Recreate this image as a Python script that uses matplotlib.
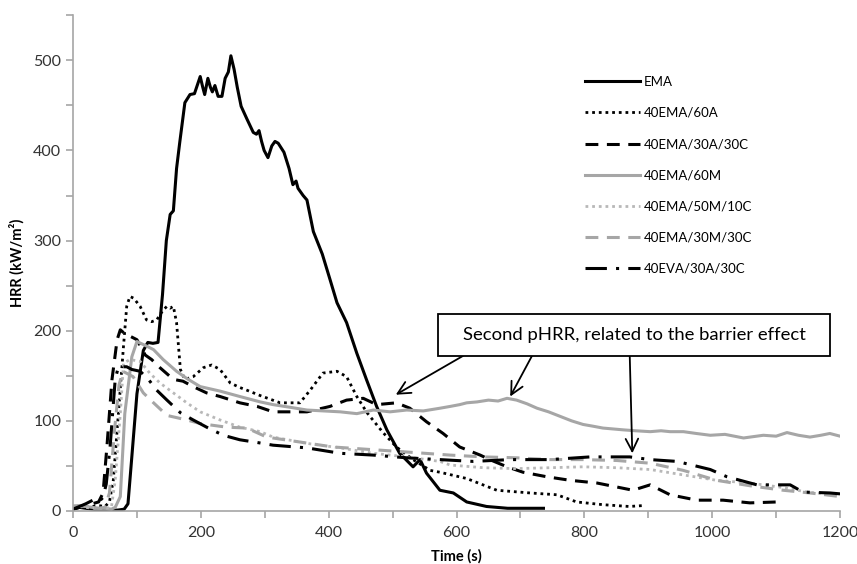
import numpy as np
import matplotlib.pyplot as plt
from matplotlib.patches import Rectangle

plt.rcParams['font.family'] = ['Lato', 'DejaVu Sans']

# EMA
t_ema = [0, 10, 20, 30, 40, 50, 60, 70, 80, 86, 92, 100, 110, 117, 125, 133, 140, 146, 152, 157, 162, 167,
         175, 183, 190, 199, 203, 206, 211, 215, 218, 222, 227, 233, 238, 243, 247, 252, 257, 263, 272, 282,
         287, 291, 295, 299, 305, 311, 316, 321, 330, 338, 344, 349, 352, 360, 366, 376, 390, 402, 413, 428,
         444, 459, 475, 491, 511, 532, 543, 553, 574, 595, 616, 647, 680, 710, 736]
hrr_ema = [2, 4, 3, 2, 1, 0, 1, 1, 2, 8, 60, 130, 178, 187, 186, 187, 240, 300, 329, 333, 380, 409,
           453, 462, 463, 482, 470, 462, 480, 470, 465, 472, 460, 460, 480, 487, 505, 490, 470, 449, 435, 420,
           418, 422, 410, 400, 392, 405, 410, 408, 398, 380, 362, 366, 358, 350, 345, 310, 285, 257, 231, 209,
           175, 146, 116, 90, 64, 49, 57, 42, 23, 20, 10, 5, 3, 3, 3]

# 40EMA/60A
t_60a = [0, 10, 20, 30, 40, 50, 57, 63, 71, 79, 84, 89, 95, 105, 115, 123, 131, 141, 147, 152, 157, 162,
         168, 175, 188, 204, 217, 230, 246, 261, 272, 293, 324, 355, 371, 391, 413, 428, 444, 460, 485, 506,
         532, 559, 574, 616, 663, 715, 757, 788, 829, 870, 892]
hrr_60a = [3, 5, 4, 5, 6, 5, 10, 34, 108, 183, 227, 238, 236, 227, 212, 210, 212, 223, 227, 225, 227, 209,
           157, 146, 149, 159, 162, 157, 142, 137, 134, 128, 120, 120, 134, 153, 155, 149, 127, 109, 87, 71,
           57, 45, 43, 36, 23, 20, 18, 10, 7, 5, 6]

# 40EMA/30A/30C
t_30a30c = [0, 10, 20, 30, 40, 47, 53, 61, 69, 74, 82, 89, 100, 113, 123, 136, 157, 172, 188, 209, 230,
            261, 288, 313, 366, 402, 428, 454, 475, 506, 527, 553, 579, 605, 637, 652, 679, 704, 741, 778,
            820, 876, 903, 934, 976, 1017, 1059, 1101, 1110]
hrr_30a30c = [2, 4, 6, 8, 10, 20, 71, 146, 190, 201, 196, 194, 190, 173, 168, 159, 146, 144, 138, 131, 127,
              120, 116, 110, 110, 116, 123, 125, 118, 120, 114, 99, 86, 71, 62, 57, 49, 43, 38, 34,
              31, 23, 29, 18, 12, 12, 9, 10, 10]

# 40EMA/60M
t_60m = [0, 10, 20, 30, 40, 50, 60, 66, 74, 81, 92, 100, 115, 126, 141, 162, 178, 199, 230, 261, 293, 313,
         340, 366, 392, 418, 444, 470, 496, 522, 548, 574, 590, 605, 616, 632, 650, 665, 679, 694, 710, 726,
         744, 762, 780, 798, 814, 829, 845, 861, 880, 903, 920, 934, 955, 975, 997, 1020, 1049, 1080, 1100,
         1117, 1135, 1153, 1170, 1184, 1200]
hrr_60m = [5, 6, 5, 4, 3, 3, 2, 4, 16, 108, 171, 188, 183, 179, 168, 155, 147, 138, 133, 127, 121, 118,
           115, 112, 111, 110, 108, 112, 110, 112, 111, 114, 116, 118, 120, 121, 123, 122, 125, 123, 119, 114,
           110, 105, 100, 96, 94, 92, 91, 90, 89, 88, 89, 88, 88, 86, 84, 85, 81, 84, 83,
           87, 84, 82, 84, 86, 83]

# 40EMA/50M/10C
t_50m10c = [0, 10, 20, 30, 40, 50, 60, 66, 74, 79, 89, 105, 120, 136, 157, 178, 199, 230, 261, 293, 313,
            366, 418, 470, 522, 574, 590, 642, 694, 746, 798, 851, 903, 955, 1007, 1059, 1111, 1148, 1195]
hrr_50m10c = [6, 5, 4, 3, 3, 3, 4, 34, 108, 164, 168, 166, 153, 142, 131, 120, 110, 101, 93, 88, 82,
              75, 70, 64, 60, 55, 51, 48, 47, 48, 49, 48, 46, 40, 34, 31, 26, 21, 18]

# 40EMA/30M/30C
t_30m30c = [0, 10, 20, 30, 40, 50, 57, 65, 72, 78, 86, 94, 110, 126, 147, 178, 199, 209, 240, 272, 303,
            407, 511, 590, 642, 694, 746, 798, 851, 903, 955, 1007, 1059, 1111, 1153, 1200]
hrr_30m30c = [5, 6, 5, 3, 3, 4, 20, 90, 140, 155, 152, 149, 131, 120, 106, 101, 97, 96, 93, 92, 82,
              71, 66, 62, 60, 59, 57, 57, 56, 53, 45, 34, 28, 23, 20, 16]

# 40EVA/30A/30C
t_eva = [0, 10, 20, 31, 40, 47, 52, 58, 66, 71, 84, 92, 105, 118, 131, 147, 168, 188, 209, 235, 261, 288,
         313, 366, 418, 470, 522, 574, 626, 684, 746, 809, 871, 903, 945, 997, 1023, 1070, 1122, 1142, 1184,
         1200]
hrr_eva = [2, 5, 8, 12, 10, 15, 30, 71, 146, 160, 160, 157, 155, 146, 134, 123, 109, 101, 93, 84, 79, 76,
           73, 70, 64, 62, 59, 57, 55, 57, 57, 60, 60, 57, 55, 46, 38, 29, 29, 21, 20, 19]

grey = '#a6a6a6'
light_grey = '#b8b8b8'

fig = plt.figure(figsize=(8.57, 5.64), dpi=100)
ax = fig.add_axes([0.0852, 0.094, 0.895, 0.879])

ax.plot(t_ema, hrr_ema, color='black', lw=2.2, label='EMA')
ax.plot(t_60a, hrr_60a, color='black', lw=2.0, linestyle=(0, (1, 1.4)), label='40EMA/60A')
ax.plot(t_30a30c, hrr_30a30c, color='black', lw=2.2, linestyle=(0, (4.2, 2.8)), label='40EMA/30A/30C')
ax.plot(t_60m, hrr_60m, color=grey, lw=2.2, label='40EMA/60M')
ax.plot(t_50m10c, hrr_50m10c, color=light_grey, lw=2.0, linestyle=(0, (1, 1.4)), label='40EMA/50M/10C')
ax.plot(t_30m30c, hrr_30m30c, color=grey, lw=2.2, linestyle=(0, (4.2, 2.8)), label='40EMA/30M/30C')
ax.plot(t_eva, hrr_eva, color='black', lw=2.2, linestyle=(0, (7, 3, 1, 3)), label='40EVA/30A/30C')

ax.set_xlim(0, 1200)
ax.set_ylim(0, 550)
ax.set_xticks(np.arange(0, 1201, 200))
ax.set_xticks(np.arange(0, 1201, 100), minor=True)
ax.set_yticks(np.arange(0, 501, 100))
ax.set_yticks(np.arange(0, 551, 50), minor=True)
for s in ['top', 'right']:
    ax.spines[s].set_visible(False)
for s in ['left', 'bottom']:
    ax.spines[s].set_color(grey)
    ax.spines[s].set_linewidth(1.2)
ax.tick_params(which='both', color=grey, length=5, width=1.2, labelsize=11.5, labelcolor='#333333')
ax.tick_params(axis='x', pad=6)

ax.set_xlabel('Time (s)', fontsize=10.5, fontweight='bold')
ax.set_ylabel('HRR (kW/m²)', fontsize=10.5, fontweight='bold')
ax.xaxis.set_label_coords(0.5, -0.077)
ax.yaxis.set_label_coords(-0.063, 0.5)

leg = ax.legend(loc='upper left', bbox_to_anchor=(0.659, 0.891), frameon=False, fontsize=9.5,
                handlelength=4.2, handletextpad=0.25, labelspacing=1.45, borderpad=0)

ax.add_patch(Rectangle((571, 172), 613, 46, fc='white', ec='black', lw=1.3, zorder=5))
ax.text(878, 195, 'Second pHRR, related to the barrier effect', fontsize=13.3, ha='center', va='center',
        zorder=6)

arrows = [((610, 172), (505, 129)), ((718, 172), (684, 127)), ((871, 172), (875, 64))]
for tail, head in arrows:
    ax.annotate('', xy=head, xytext=tail,
                arrowprops=dict(arrowstyle='->,head_length=0.9,head_width=0.45', color='black', lw=1.3,
                                shrinkA=0, shrinkB=0))

fig.savefig('out.png', dpi=100)
